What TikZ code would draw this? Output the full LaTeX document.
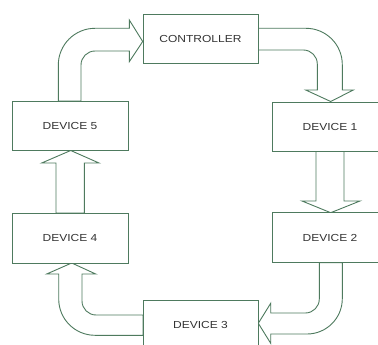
\documentclass[tikz,border=0pt]{standalone}
\usepackage{fontspec}
\setmainfont{Liberation Sans}
\definecolor{ln}{HTML}{4E7A5E}
\definecolor{tx}{HTML}{333333}
\begin{document}
\begin{tikzpicture}[x=1pt,y=-1pt,
  box/.style={draw=ln, line width=0.9pt, fill=white, inner sep=0pt,
    minimum width=116pt, minimum height=49pt, text=tx,
    font=\fontsize{12}{14}\selectfont},
  barrow/.style={draw=ln, line width=0.9pt, fill=white, line join=miter}]
\useasboundingbox (0,0) rectangle (378,345);
\clip (0,0) rectangle (378,345);
\fill[white] (0,0) rectangle (378,345);

% block arrows
% device 5 -> controller
\draw[barrow] (81,101) -- (81,65) arc[start angle=180, end angle=270, radius=14]
  -- (129.3,51) -- (129.3,61.7) -- (142.7,41.5) -- (129.3,20) -- (129.3,28.3)
  -- (95,28.3) arc[start angle=270, end angle=180, radius=36.7] -- (58.3,101) -- cycle;
% controller -> device 1
\draw[barrow] (258,28.3) -- (306,28.3) arc[start angle=270, end angle=360, radius=36.3]
  -- (342.3,90) -- (353.3,90) -- (330.7,101.5) -- (305.7,90) -- (317.3,90)
  -- (317.3,64) arc[start angle=0, end angle=-90, radius=14] -- (258,50) -- cycle;
% device 1 -> device 2
\draw[barrow] (316,151.5) -- (316,201) -- (302,201) -- (330.7,212.7) -- (360,201)
  -- (344,201) -- (344,151.5) -- cycle;
% device 2 -> device 3
\draw[barrow] (319.3,262.7) -- (319.3,299) arc[start angle=0, end angle=90, radius=14]
  -- (270.7,313) -- (270.7,303.3) -- (258.3,323.3) -- (270.7,343.3) -- (270.7,334)
  -- (307,334) arc[start angle=90, end angle=0, radius=35.3] -- (342.3,262.7) -- cycle;
% device 3 -> device 4
\draw[barrow] (143,315) -- (96,315) arc[start angle=90, end angle=180, radius=14]
  -- (82,274) -- (95.7,274) -- (71.7,263) -- (46.7,274) -- (58.7,274)
  -- (58.7,299) arc[start angle=180, end angle=90, radius=36.3] -- (143,335.3) -- cycle;
% device 4 -> device 5
\draw[barrow] (56,213) -- (56,163) -- (41.7,163) -- (70.7,150.5) -- (99,163)
  -- (84.3,163) -- (84.3,213) -- cycle;

% boxes
\node[box, minimum width=115pt] (ctrl) at (200.5,38.5) {\scalebox{1}[0.85]{CONTROLLER}};
\node[box] (d5) at (70,125.5) {\scalebox{1}[0.85]{DEVICE 5}};
\node[box, minimum height=49.5pt] (d1) at (330,126.8) {\scalebox{1}[0.85]{DEVICE 1}};
\node[box, minimum height=50pt] (d2) at (330,237.7) {\scalebox{1}[0.85]{DEVICE 2}};
\node[box, minimum height=50pt] (d4) at (70,238) {\scalebox{1}[0.85]{DEVICE 4}};
\node[box, minimum width=115pt] (d3) at (200.5,324.5) {\scalebox{1}[0.85]{DEVICE 3}};
\end{tikzpicture}
\end{document}
